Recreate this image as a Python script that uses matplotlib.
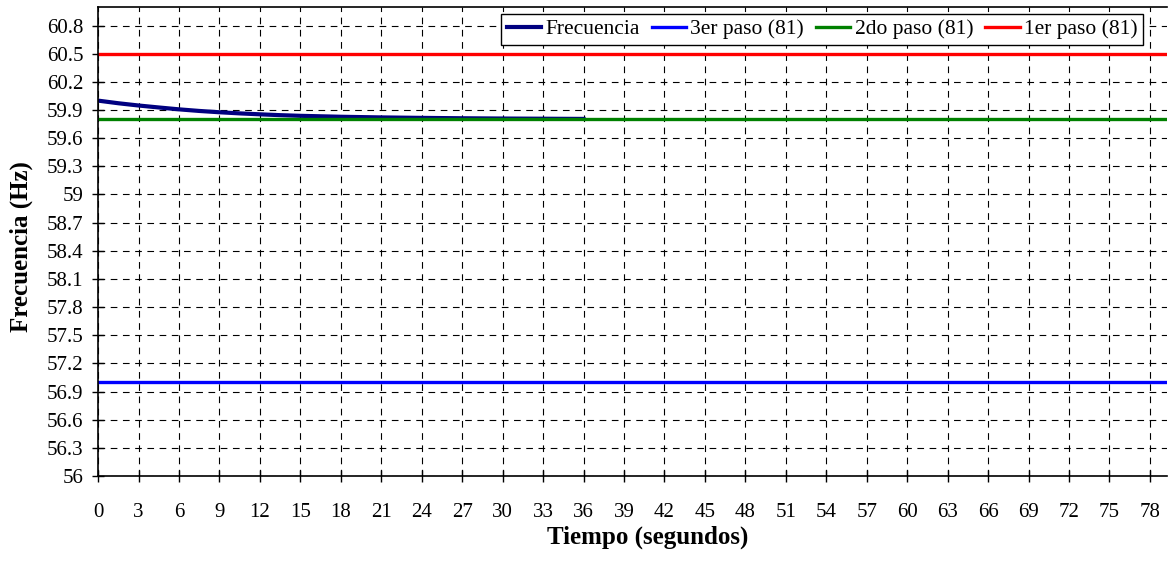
import matplotlib

matplotlib.use("Agg")
import matplotlib.pyplot as plt
from matplotlib.ticker import MultipleLocator

plt.rcParams["font.family"] = ["Liberation Serif", "DejaVu Serif"]

# frequency response (seconds, Hz)
tiempo = [0, 1.5, 3, 4.5, 6, 7.5, 9, 10.5, 12, 13.5, 15, 18, 21, 24, 27, 30, 33, 36]
frecuencia = [60.00, 59.972, 59.948, 59.927, 59.907, 59.890, 59.876, 59.864, 59.854,
              59.845, 59.838, 59.828, 59.821, 59.816, 59.812, 59.809, 59.807, 59.805]

# load-shedding thresholds (relay 81)
paso_3 = 57.0
paso_2 = 59.8
paso_1 = 60.5

t_max = 79.3

fig = plt.figure(figsize=(11.7, 5.64), dpi=100)
ax = fig.add_axes([0.0838, 0.156, 0.914, 0.832])

ax.plot(tiempo, frecuencia, color="#000080", lw=3.0, label="Frecuencia")
ax.plot([0, t_max], [paso_3, paso_3], color="#0000FF", lw=2.4, label="3er paso (81)")
ax.plot([0, t_max], [paso_2, paso_2], color="#008000", lw=2.4, label="2do paso (81)")
ax.plot([0, t_max], [paso_1, paso_1], color="#FF0000", lw=2.4, label="1er paso (81)")

ax.set_xlim(0, t_max)
ax.set_ylim(56, 61.0)
ax.xaxis.set_major_locator(MultipleLocator(3))
ax.set_yticks([round(56 + 0.3 * i, 1) for i in range(17)])
ax.set_yticklabels([f"{56 + 0.3 * i:g}" for i in range(17)])

ax.grid(True, color="black", linestyle=(0, (6, 5)), linewidth=0.8)
ax.set_axisbelow(True)
ax.tick_params(direction="inout", length=9, width=1, labelsize=15, colors="black")
ax.tick_params(axis="x", pad=15)
ax.tick_params(axis="y", pad=6)
for s in ax.spines.values():
    s.set_linewidth(1.2)
ax.spines["right"].set_visible(False)

ax.set_xlabel("Tiempo (segundos)", fontsize=18, fontweight="bold")
ax.xaxis.set_label_coords(0.514, -0.105)
ax.set_ylabel("Frecuencia (Hz)", fontsize=18, fontweight="bold")
ax.yaxis.set_label_coords(-0.061, 0.49)

leg = ax.legend(loc="upper right", bbox_to_anchor=(0.977, 0.985), ncol=4, fontsize=15.5,
                frameon=True, fancybox=False, framealpha=1, edgecolor="black",
                handlelength=1.6, handletextpad=0.2, columnspacing=0.55,
                borderpad=0.25, borderaxespad=0)
leg.get_frame().set_linewidth(1.0)

fig.savefig("out.png", dpi=100)
